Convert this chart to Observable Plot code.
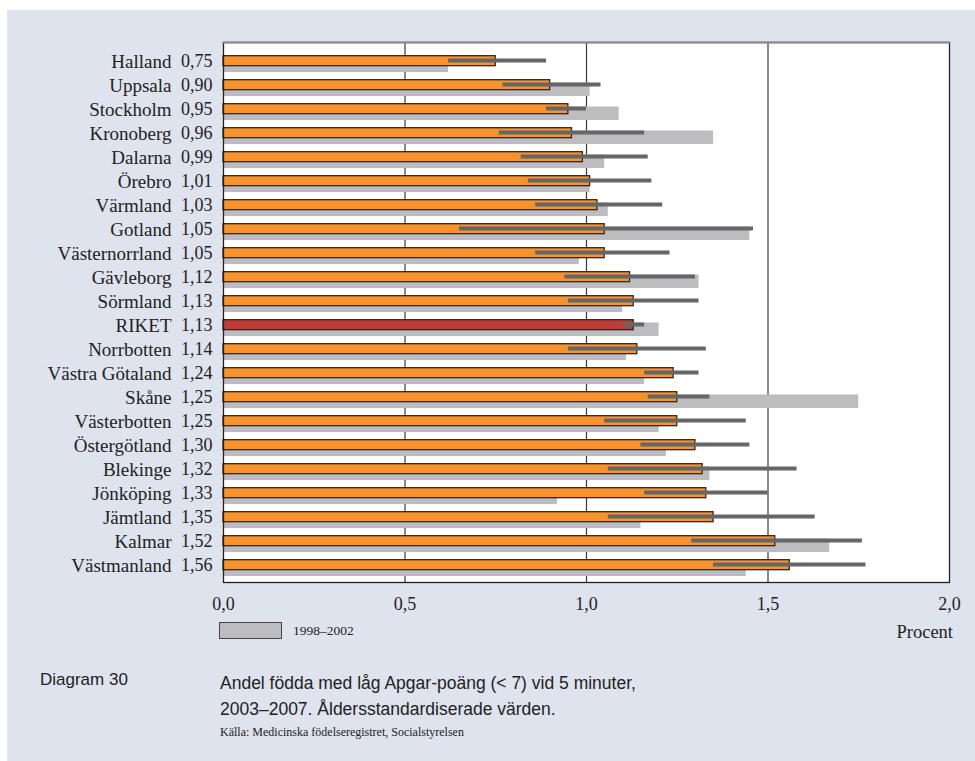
<!DOCTYPE html>
<html>
<head>
<meta charset="utf-8">
<script src="https://cdn.jsdelivr.net/npm/d3@7"></script>
<script src="https://cdn.jsdelivr.net/npm/@observablehq/plot@0.6"></script>
<style>
  html, body { margin: 0; padding: 0; background: #ffffff; }
  #page { position: relative; width: 975px; height: 761px; overflow: hidden; }
  #panel { position: absolute; left: 7px; top: 10px; width: 968px; height: 751px; background: #dfe3ee; }
  #chart { position: absolute; left: 0; top: 0; }
  #chart svg text { font-family: "Liberation Serif", "DejaVu Serif", serif; }
  .serif { font-family: "Liberation Serif", "DejaVu Serif", serif; color: #222; }
  .sans { font-family: "Liberation Sans", Arial, sans-serif; color: #222; }
  #legbox { position: absolute; left: 219px; top: 622px; width: 63px; height: 17px; background: #bdbdc1; border: 1px solid #444; box-sizing: border-box; }
  #legtxt { position: absolute; left: 293px; top: 623px; font-size: 13.5px; }
  #unit { position: absolute; right: 22px; top: 622px; font-size: 18.5px; }
  #diag { position: absolute; left: 40px; top: 670px; font-size: 17px; }
  #title { position: absolute; left: 220px; top: 670px; font-size: 17.5px; line-height: 26px; }
  #source { position: absolute; left: 220px; top: 725px; font-size: 12px; }
</style>
</head>
<body>
<div id="page">
  <div id="panel"></div>
  <div id="chart"></div>
  <div id="legbox"></div>
  <div id="legtxt" class="serif">1998–2002</div>
  <div id="unit" class="serif">Procent</div>
  <div id="diag" class="sans">Diagram 30</div>
  <div id="title" class="sans">Andel födda med låg Apgar-poäng (&lt; 7) vid 5 minuter,<br>2003–2007. Åldersstandardiserade värden.</div>
  <div id="source" class="serif">Källa: Medicinska födelseregistret, Socialstyrelsen</div>
</div>
<script>
// Regions (top to bottom)
const regions = ["Halland","Uppsala","Stockholm","Kronoberg","Dalarna","Örebro","Värmland","Gotland","Västernorrland","Gävleborg","Sörmland","RIKET","Norrbotten","Västra Götaland","Skåne","Västerbotten","Östergötland","Blekinge","Jönköping","Jämtland","Kalmar","Västmanland"];
// 2003–2007 values (percent)
const values2003_2007 = [0.75,0.90,0.95,0.96,0.99,1.01,1.03,1.05,1.05,1.12,1.13,1.13,1.14,1.24,1.25,1.25,1.30,1.32,1.33,1.35,1.52,1.56];
// 1998–2002 values (percent)
const values1998_2002 = [0.62,1.01,1.09,1.35,1.05,1.01,1.06,1.45,0.98,1.31,1.10,1.20,1.11,1.16,1.75,1.20,1.22,1.34,0.92,1.15,1.67,1.44];
// Confidence interval bounds
const ciLow  = [0.62,0.77,0.89,0.76,0.82,0.84,0.86,0.65,0.86,0.94,0.95,1.10,0.95,1.16,1.17,1.05,1.15,1.06,1.16,1.06,1.29,1.35];
const ciHigh = [0.89,1.04,1.00,1.16,1.17,1.18,1.21,1.46,1.23,1.30,1.31,1.16,1.33,1.31,1.34,1.44,1.45,1.58,1.50,1.63,1.76,1.77];
// x-axis ticks
const xTicks = [0, 0.5, 1.0, 1.5, 2.0];
const darkGrid = [0.5, 1.0];
const lightGrid = [1.5];

const SERIF = "Liberation Serif";
const fmt = v => v.toFixed(1).replace(".", ",");
const data = regions.map((r, i) => ({
  region: r,
  value: values2003_2007[i],
  prev: values1998_2002[i],
  lo: ciLow[i],
  hi: ciHigh[i],
  label: values2003_2007[i].toFixed(2).replace(".", ",")
}));

const chart = Plot.plot({
  width: 975,
  height: 620,
  marginTop: 42,
  marginBottom: 38,
  marginLeft: 223,
  marginRight: 26,
  style: { background: "transparent", fontFamily: SERIF, fontSize: "19px", color: "#222" },
  x: { domain: [0, 2], ticks: xTicks, tickFormat: fmt },
  y: { domain: regions, padding: 0, axis: null },
  marks: [
    Plot.frame({ fill: "#ffffff", stroke: "none" }),
    Plot.ruleX(darkGrid, { stroke: "#3a3a3a", strokeWidth: 1.2 }),
    Plot.ruleX(lightGrid, { stroke: "#8a8a8a", strokeWidth: 2 }),
    Plot.barX(data, { y: "region", x: "prev", fill: "#bdbdc1", insetTop: 10.5, insetBottom: 0 }),
    Plot.barX(data, { y: "region", x: "value", fill: d => d.region === "RIKET" ? "#be3e36" : "#f7932f", stroke: "#2e2620", strokeWidth: 1.3, insetTop: 7.7, insetBottom: 6.3 }),
    Plot.ruleY(data, { y: "region", x1: "lo", x2: "hi", stroke: "#666666", strokeWidth: 4 }),
    Plot.frame({ stroke: "#222", strokeWidth: 1.3 }),
    Plot.frame({ anchor: "top", stroke: "#8a8a8a", strokeWidth: 2 }),
    Plot.text(data, { y: "region", text: "region", frameAnchor: "left", textAnchor: "end", dx: -52, dy: 1, fill: "#222", fontFamily: SERIF, fontSize: 19 }),
    Plot.text(data, { y: "region", text: "label", frameAnchor: "left", textAnchor: "end", dx: -11, dy: 1, fill: "#222", fontFamily: SERIF, fontSize: 18 }),
    Plot.axisX({ ticks: xTicks, tickFormat: fmt, tickSize: 0, tickPadding: 15, label: null, fill: "#222", fontFamily: SERIF, fontSize: 18 })
  ]
});
document.getElementById("chart").appendChild(chart);
</script>
</body>
</html>
